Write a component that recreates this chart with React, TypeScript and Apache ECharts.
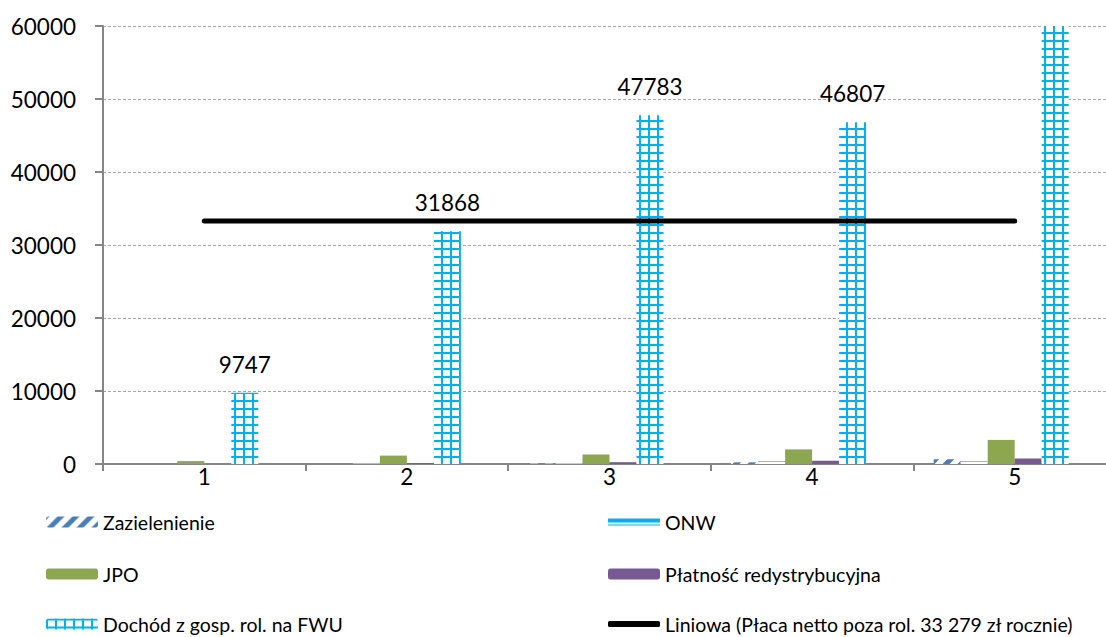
import React, { useEffect, useRef } from "react";
import * as echarts from "echarts";

// Categories on the x axis
const categories = ["1", "2", "3", "4", "5"];

// Series values per category (zł)
const zazielenienie = [0, 0, 60, 230, 650];
const onw = [0, 60, 80, 360, 360];
const jpo = [400, 1150, 1300, 2000, 3300];
const platnosc = [0, 120, 250, 450, 750];
const dochod = [9747, 31868, 47783, 46807, 68000];
const placaNetto = [33279, 33279, 33279, 33279, 33279];

// Value axis
const yMin = 0;
const yMax = 60000;
const yInterval = 10000;

// Legend labels
const legendLabels = {
  zaz: "Zazielenienie",
  onw: "ONW",
  jpo: "JPO",
  plat: "Płatność redystrybucyjna",
  doch: "Dochód z gosp. rol. na FWU",
  lin: "Liniowa (Płaca netto poza rol. 33 279 zł rocznie)",
};

const FONT = "Lato, 'Open Sans', sans-serif";
const CYAN = "#00B0F0";
const BLUE = "#4A7EBB";

function makeTile(w: number, h: number, draw: (ctx: CanvasRenderingContext2D) => void) {
  const c = document.createElement("canvas");
  c.width = w;
  c.height = h;
  const ctx = c.getContext("2d")!;
  ctx.fillStyle = "#ffffff";
  ctx.fillRect(0, 0, w, h);
  draw(ctx);
  return { image: c, repeat: "repeat" as const, imageWidth: w, imageHeight: h };
}

export default function App() {
  const ref = useRef<HTMLDivElement>(null);

  useEffect(() => {
    if (!ref.current) return;
    const chart = echarts.init(ref.current, undefined, { renderer: "svg" });

    // cross-hatch grid for the income bars
    const gridPattern = makeTile(9, 8, (ctx) => {
      ctx.fillStyle = CYAN;
      ctx.fillRect(0, 0, 2, 8);
      ctx.fillRect(0, 0, 9, 2);
    });
    // wide upward diagonal stripes
    const diagPattern = makeTile(15, 15, (ctx) => {
      ctx.strokeStyle = BLUE;
      ctx.lineWidth = 5;
      ctx.beginPath();
      ctx.moveTo(-2, 17);
      ctx.lineTo(17, -2);
      ctx.moveTo(-8, 8);
      ctx.lineTo(8, -8);
      ctx.moveTo(7, 23);
      ctx.lineTo(23, 7);
      ctx.stroke();
    });
    // double horizontal line
    const doubleLine = makeTile(4, 12, (ctx) => {
      ctx.fillStyle = CYAN;
      ctx.fillRect(0, 2, 4, 4);
      ctx.fillRect(0, 8, 4, 1);
    });

    const labelStyle = { fontFamily: FONT, fontSize: 19.5, color: "#000" };

    const legendAt = (name: string, left: number, top: number, extra: any = {}) => ({
      show: true,
      data: [name],
      left,
      top,
      padding: 0,
      orient: "horizontal",
      itemWidth: 52,
      itemHeight: 11,
      selectedMode: false,
      textStyle: labelStyle,
      ...extra,
    });

    const row1 = 512;
    const row2 = 564;
    const row3 = 614;

    chart.setOption({
      animation: false,
      backgroundColor: "#ffffff",
      grid: { left: 103, top: 26, width: 1013, height: 438, containLabel: false },
      legend: [
        legendAt(legendLabels.zaz, 46, row1),
        legendAt(legendLabels.onw, 608, row1),
        legendAt(legendLabels.jpo, 46, row2),
        legendAt(legendLabels.plat, 608, row2),
        legendAt(legendLabels.doch, 46, row3),
        legendAt(legendLabels.lin, 608, row3, { itemHeight: 6, icon: "roundRect" }),
      ],
      xAxis: {
        type: "category",
        data: categories,
        boundaryGap: true,
        axisLine: { lineStyle: { color: "#868686", width: 2 } },
        axisTick: { show: true, length: 7, lineStyle: { color: "#868686", width: 2 } },
        axisLabel: { margin: 1, fontFamily: FONT, fontSize: 22.5, color: "#000" },
        splitLine: { show: false },
      },
      yAxis: {
        type: "value",
        min: yMin,
        max: yMax,
        interval: yInterval,
        axisLine: { show: true, lineStyle: { color: "#868686", width: 2 } },
        axisTick: { show: true, length: 8, lineStyle: { color: "#868686", width: 2 } },
        axisLabel: {
          margin: 27,
          fontFamily: FONT,
          fontSize: 22.5,
          color: "#000",
          formatter: (v: number) => String(v),
        },
        splitLine: { show: true, lineStyle: { color: "#a8a8a8", width: 1, type: [3, 2] } },
      },
      series: [
        {
          name: legendLabels.zaz,
          type: "bar",
          barWidth: 27,
          barGap: "0%",
          data: zazielenienie,
          itemStyle: { color: diagPattern },
        },
        {
          name: legendLabels.onw,
          type: "bar",
          barWidth: 27,
          barGap: "0%",
          data: onw,
          itemStyle: { color: doubleLine },
        },
        {
          name: legendLabels.jpo,
          type: "bar",
          barWidth: 27,
          barGap: "0%",
          data: jpo,
          itemStyle: { color: "#8DA650" },
        },
        {
          name: legendLabels.plat,
          type: "bar",
          barWidth: 27,
          barGap: "0%",
          data: platnosc,
          itemStyle: { color: "#775A93" },
        },
        {
          name: legendLabels.doch,
          type: "bar",
          barWidth: 27,
          barGap: "0%",
          clip: true,
          data: dochod.map((v) => ({
            value: v,
            label: { show: v <= yMax },
          })),
          itemStyle: { color: gridPattern },
          label: {
            show: true,
            position: "top",
            distance: 17,
            fontFamily: FONT,
            fontSize: 22.5,
            color: "#000",
          },
        },
        {
          // net wage series: kept unfilled, only its linear trend is drawn
          name: "Płaca netto poza rol.",
          type: "bar",
          barWidth: 27,
          barGap: "0%",
          silent: true,
          data: placaNetto,
          itemStyle: { color: "rgba(0,0,0,0)" },
        },
        {
          name: legendLabels.lin,
          type: "line",
          data: placaNetto,
          symbol: "none",
          z: 10,
          lineStyle: { color: "#000", width: 5, cap: "round" },
          itemStyle: { color: "#000" },
        },
      ],
    });

    return () => chart.dispose();
  }, []);

  return (
    <div
      ref={ref}
      style={{ position: "fixed", left: 0, top: 0, width: 1130, height: 637, background: "#fff" }}
    />
  );
}
